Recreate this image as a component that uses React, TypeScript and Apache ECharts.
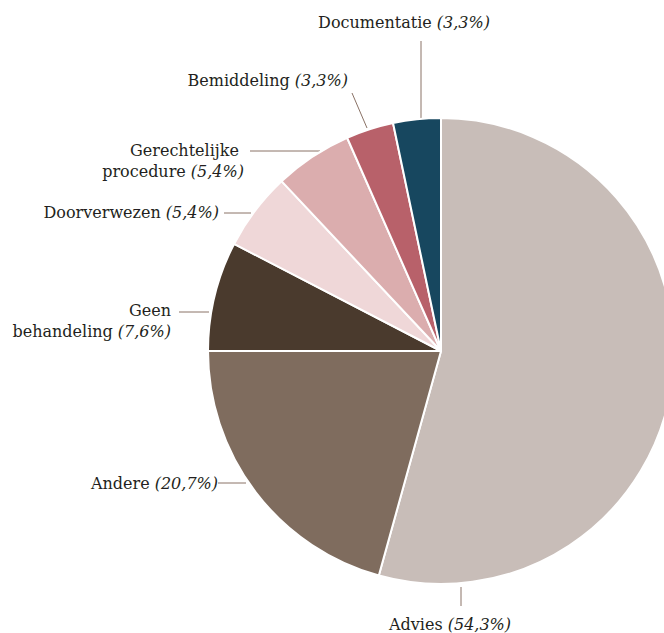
import React, { useEffect, useRef } from "react";
import * as echarts from "echarts";

const names = ["Advies", "Andere", "Geen\nbehandeling", "Doorverwezen", "Gerechtelijke \nprocedure", "Bemiddeling", "Documentatie"];
const values = [54.3, 20.7, 7.6, 5.4, 5.4, 3.3, 3.3];
const pctLabels = ["54,3%", "20,7%", "7,6%", "5,4%", "5,4%", "3,3%", "3,3%"];
const colors = ["#c8bdb8", "#7f6c5e", "#4a3a2d", "#efd7d8", "#dbadae", "#b8616a", "#17475f"];

// label placement: [x, y, align]
const labelPos: [number, number, string][] = [
  [450, 624, "center"],
  [218, 483, "right"],
  [171, 321, "right"],
  [219, 212, "right"],
  [244, 161, "right"],
  [348, 80, "right"],
  [404, 22, "center"],
];
const linePts: number[][][] = [
  [[461, 587], [461, 587], [461, 606]],
  [[246, 483], [246, 483], [218, 483]],
  [[209, 312], [209, 312], [179, 312]],
  [[251, 213], [251, 213], [224, 213]],
  [[320, 151], [320, 151], [250, 151]],
  [[367, 128], [367, 128], [352, 93]],
  [[421, 118], [421, 118], [421, 41]],
];

export default function App() {
  const ref = useRef<HTMLDivElement>(null);
  useEffect(() => {
    document.body.style.margin = "0";
    const chart = echarts.init(ref.current!, null, { renderer: "svg" });
    const font = "DejaVu Serif";
    chart.setOption({
      animation: false,
      backgroundColor: "#ffffff",
      series: [
        {
          type: "pie",
          center: [441, 351],
          radius: [0, 233],
          startAngle: 90,
          clockwise: true,
          avoidLabelOverlap: false,
          itemStyle: { borderColor: "#ffffff", borderWidth: 2 },
          data: names.map((n, i) => ({ name: n, value: values[i], itemStyle: { color: colors[i] } })),
          label: {
            show: true,
            position: "outside",
            fontFamily: font,
            fontSize: 16,
            color: "#231f20",
            lineHeight: 21,
            formatter: (p: any) => `${p.name} {i|(${pctLabels[p.dataIndex]})}`,
            rich: {
              i: { fontStyle: "italic", fontFamily: font, fontSize: 16, color: "#231f20", lineHeight: 21 },
            },
          },
          labelLine: { show: true, lineStyle: { color: "#8a7266", width: 1 } },
          labelLayout: (params: any) => {
            const i = params.dataIndex;
            const [x, y, align] = labelPos[i];
            return {
              x,
              y,
              align,
              verticalAlign: "middle",
              labelLinePoints: linePts[i],
            };
          },
        },
      ],
    });
    return () => chart.dispose();
  }, []);
  return <div ref={ref} style={{ width: 664, height: 633 }} />;
}
